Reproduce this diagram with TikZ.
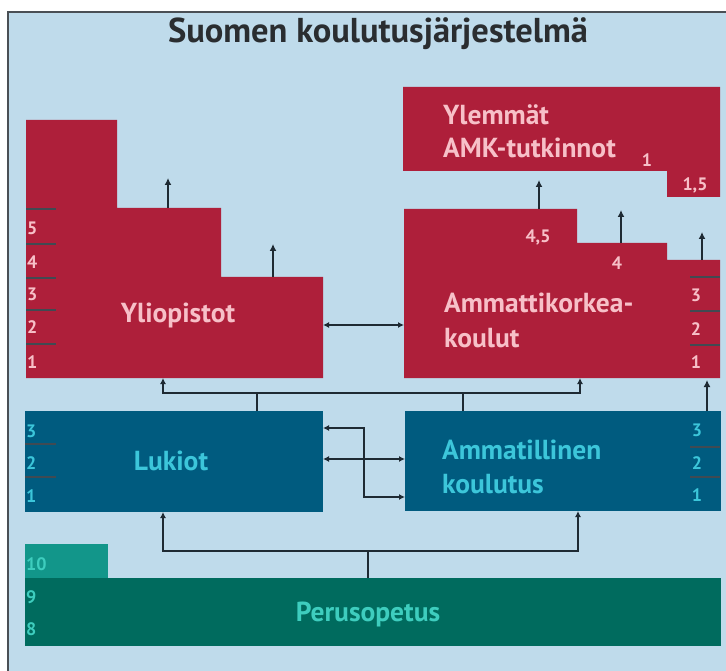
\documentclass[tikz,border=0pt]{standalone}
\usepackage{fontspec}
\setmainfont{PT Sans}
\usetikzlibrary{arrows.meta}
\definecolor{bgblue}{HTML}{BFDBEB}
\definecolor{framegray}{HTML}{4A4F55}
\definecolor{uni}{HTML}{AE1F3A}
\definecolor{unitext}{HTML}{F7C0C8}
\definecolor{sec}{HTML}{005B7F}
\definecolor{sectext}{HTML}{3CC6DA}
\definecolor{basic}{HTML}{006B5E}
\definecolor{basicten}{HTML}{12968A}
\definecolor{basictext}{HTML}{3ECDBE}
\definecolor{conn}{HTML}{1E2A33}
\definecolor{titlecol}{HTML}{2A2D30}
\tikzset{
  redshape/.style={fill=uni},
  blueshape/.style={fill=sec},
  lbl/.style={font=\bfseries\fontsize{27.5}{30}\selectfont, inner sep=0pt},
  redlbl/.style={lbl, text=unitext},
  bluelbl/.style={lbl, text=sectext},
  greenlbl/.style={lbl, text=basictext},
  num/.style={font=\bfseries\fontsize{18}{20}\selectfont, inner sep=0pt},
  tick/.style={draw=conn!85, line width=1.4pt},
  link/.style={draw=conn, line width=1.8pt},
  uparrow/.style={link, -{Latex[length=7pt,width=7pt]}},
  twoway/.style={link, {Latex[length=6pt,width=6pt]}-{Latex[length=6pt,width=6pt]}},
}
\begin{document}
\begin{tikzpicture}[x=1pt,y=-1pt]
\useasboundingbox (0,0) rectangle (726,671);
\fill[white] (0,0) rectangle (726,671);
\fill[bgblue] (8,12) rectangle (726,671);
\draw[framegray, line width=2pt] (8,671) -- (8,12) -- (726,12);
\node[font=\bfseries\fontsize{34.5}{38}\selectfont, text=titlecol, inner sep=0pt] (title) at (378,34) {Suomen koulutusjärjestelmä};

% Yliopistot
\fill[redshape] (26,120) -- (117,120) -- (117,208) -- (221,208) -- (221,277) -- (323,277) -- (323,378) -- (26,378) -- cycle;
\coordinate (yS1) at (168,208); \coordinate (yS1t) at (168,178);
\coordinate (yS2) at (273,277); \coordinate (yS2t) at (273,244);
\coordinate (yR) at (323,325); \coordinate (yB) at (163,378);
\node[redlbl] (ylio) at (178,315) {Yliopistot};
\foreach \yy in {209,244,278,310,344} \draw[tick] (26,\yy) -- (56,\yy);
\node[num, text=unitext, anchor=west] (y5) at (27,228) {5};
\node[num, text=unitext, anchor=west] (y4) at (27,262) {4};
\node[num, text=unitext, anchor=west] (y3) at (27,294) {3};
\node[num, text=unitext, anchor=west] (y2) at (27,327) {2};
\node[num, text=unitext, anchor=west] (y1) at (27,362) {1};

% Ylemmat AMK
\fill[redshape] (403,87) -- (720,87) -- (720,197) -- (667,197) -- (667,171) -- (403,171) -- cycle;
\node[redlbl, anchor=west] (ylem1) at (443,115) {Ylemmät};
\node[redlbl, anchor=west] (ylem2) at (443,148) {AMK-tutkinnot};
\node[num, text=unitext] (ylemone) at (647,160) {1};
\node[num, text=unitext] (ylemonefive) at (695,185) {1,5};

% AMK
\fill[redshape] (404,209) -- (577,209) -- (577,243) -- (667,243) -- (667,260) -- (720,260) -- (720,378) -- (404,378) -- cycle;
\coordinate (aS1) at (539,209); \coordinate (aS1t) at (539,180);
\coordinate (aS2) at (621,243); \coordinate (aS2t) at (621,210);
\coordinate (aS3) at (702,260); \coordinate (aS3t) at (702,232);
\coordinate (aL) at (404,325); \coordinate (aB) at (580,378);
\node[redlbl, anchor=west] (amk1) at (444,303) {Ammattikorkea-};
\node[redlbl, anchor=west] (amk2) at (444,338) {koulut};
\node[num, text=unitext] (a45) at (538,237) {4,5};
\node[num, text=unitext] (a4) at (617,263) {4};
\foreach \yy in {277,311,345} \draw[tick] (690,\yy) -- (720,\yy);
\node[num, text=unitext] (a3) at (696,295) {3};
\node[num, text=unitext] (a2) at (696,329) {2};
\node[num, text=unitext] (a1) at (696,362) {1};

% Lukiot
\fill[blueshape] (25,411) rectangle (323,512);
\coordinate (lT) at (257,411); \coordinate (lR1) at (323,428); \coordinate (lR2) at (323,459); \coordinate (lB) at (163,512);
\node[bluelbl] (luk) at (171,461) {Lukiot};
\foreach \yy in {444,477} \draw[tick] (25,\yy) -- (56,\yy);
\node[num, text=sectext, anchor=west] (l3) at (26,431) {3};
\node[num, text=sectext, anchor=west] (l2) at (26,463) {2};
\node[num, text=sectext, anchor=west] (l1) at (26,496) {1};

% Ammatillinen
\fill[blueshape] (405,411) rectangle (721,511);
\coordinate (mT) at (463,411); \coordinate (mL1) at (405,459); \coordinate (mL2) at (405,497);
\coordinate (mB) at (578,511); \coordinate (mTR) at (707,411); \coordinate (aBR) at (707,380);
\node[bluelbl, anchor=west] (amm1) at (442,450) {Ammatillinen};
\node[bluelbl, anchor=west] (amm2) at (442,484) {koulutus};
\foreach \yy in {447,477} \draw[tick] (690,\yy) -- (720,\yy);
\node[num, text=sectext] (m3) at (697,430) {3};
\node[num, text=sectext] (m2) at (697,463) {2};
\node[num, text=sectext] (m1) at (697,495) {1};

% Perusopetus
\fill[basicten] (25,544) rectangle (108,578);
\fill[basic] (25,578) rectangle (721,646);
\coordinate (pT) at (368,578);
\node[greenlbl] (perus) at (368,614) {Perusopetus};
\node[num, text=basictext, anchor=west] (p10) at (26,564) {10};
\node[num, text=basictext, anchor=west] (p9) at (26,597) {9};
\node[num, text=basictext, anchor=west] (p8) at (26,629) {8};

% connectors
\draw[uparrow] (yS1) -- (yS1t);
\draw[uparrow] (yS2) -- (yS2t);
\draw[uparrow] (aS1) -- (aS1t);
\draw[uparrow] (aS2) -- (aS2t);
\draw[uparrow] (aS3) -- (aS3t);
\draw[uparrow] (mTR) -- (aBR);
\draw[twoway] (yR) -- (aL);
\draw[twoway] (yB) -- (163,393) -- (580,393) -- (aB);
\draw[link] (lT) -- (257,393);
\draw[link] (mT) -- (463,393);
\draw[twoway] (lR1) -- (364,428) -- (364,497) -- (mL2);
\draw[twoway] (lR2) -- (mL1);
\draw[twoway] (lB) -- (163,551) -- (578,551) -- (mB);
\draw[link] (pT) -- (368,551);
\end{tikzpicture}
\end{document}
